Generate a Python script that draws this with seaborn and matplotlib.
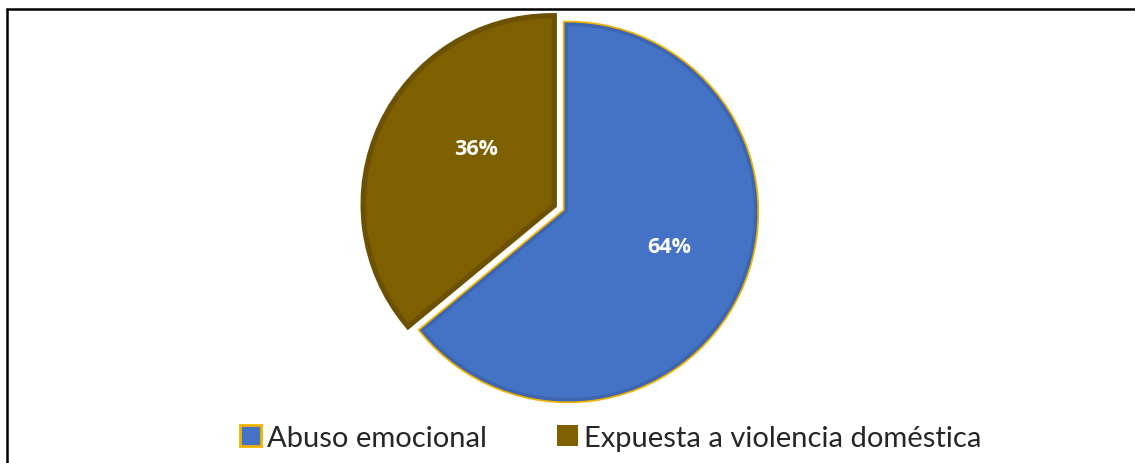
import matplotlib
matplotlib.use("Agg")
import matplotlib.pyplot as plt
import matplotlib.patheffects as pe
from matplotlib.lines import Line2D
from matplotlib.patches import Patch
import seaborn as sns

categories = ["Abuso emocional", "Expuesta a violencia doméstica"]
shares = [64, 36]
fill_colors = ["#4472C4", "#7F6000"]
band_colors = ["#3E66B0", "#6B5100"]
rim_colors = ["#F0B400", "#6B5100"]

sns.set_theme(style="white")
plt.rcParams["font.family"] = ["Lato", "DejaVu Sans"]

W, H = 1135, 464
fig = plt.figure(figsize=(W / 100, H / 100), dpi=100)
ax = fig.add_axes([0, 0, 1, 1])

R = 186
wedges, texts, autotexts = ax.pie(
    shares,
    colors=fill_colors,
    startangle=90,
    counterclock=False,
    explode=[0, 18],
    center=(568, H - 213),
    radius=R,
    autopct="%1.0f%%",
    pctdistance=0.56,
    wedgeprops=dict(linewidth=0),
    textprops=dict(color="white", fontsize=15.5, fontweight="bold",
                   family=["Open Sans", "DejaVu Sans"]),
    frame=True,
)
ax.set_xlim(0, W)
ax.set_ylim(0, H)
ax.set_aspect("equal")
ax.axis("off")

# move the percentage labels slightly toward the upper right, as in best-fit placement
for t, (dx, dy) in zip(autotexts, [(7, 10), (19, 11)]):
    x, y = t.get_position()
    t.set_position((x + dx, y + dy))

for w, band, rim in zip(wedges, band_colors, rim_colors):
    w.set_path_effects([
        pe.Stroke(linewidth=7.5, foreground=rim),
        pe.Stroke(linewidth=5.0, foreground=band),
        pe.Normal(),
    ])

handles = [
    Patch(facecolor=fill_colors[0], edgecolor=rim_colors[0], linewidth=2),
    Patch(facecolor=fill_colors[1], edgecolor=fill_colors[1], linewidth=0),
]
fig.legend(
    handles, categories,
    loc="lower center", bbox_to_anchor=(0.538, -0.03),
    ncol=2, frameon=False, fontsize=21,
    handlelength=0.72, handleheight=0.72, handletextpad=0.22,
    columnspacing=2.4,
)

# chart frame: top and left edges
fig.add_artist(Line2D([7 / W, 1.0], [1 - 10 / H, 1 - 10 / H],
                      transform=fig.transFigure, color="black", linewidth=1.8))
fig.add_artist(Line2D([7 / W, 7 / W], [0, 1 - 10 / H],
                      transform=fig.transFigure, color="black", linewidth=1.8))

fig.savefig("out.png", dpi=100, facecolor="white")
